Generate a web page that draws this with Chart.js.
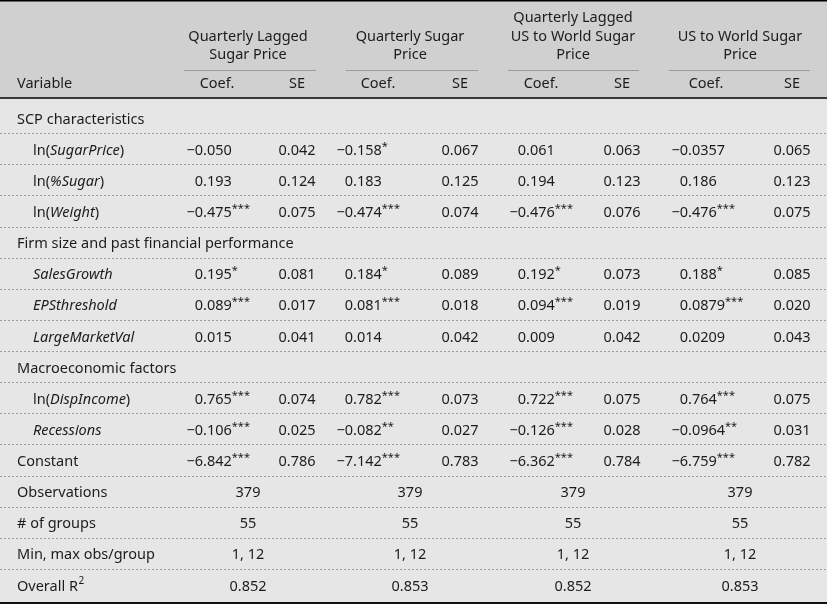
<!DOCTYPE html>
<html>
<head>
<meta charset="utf-8">
<script src="https://cdn.jsdelivr.net/npm/chart.js@4"></script>
<style>
  html, body { margin: 0; padding: 0; background: #e6e6e6; }
  canvas { display: block; }
</style>
</head>
<body>
<canvas id="regressionTable" width="827" height="604"></canvas>
<script>
// Regression table: four sugar price models, coefficients and standard errors

const modelTitles = [
    ['Quarterly Lagged', 'Sugar Price'],
    ['Quarterly Sugar', 'Price'],
    ['Quarterly Lagged', 'US to World Sugar', 'Price'],
    ['US to World Sugar', 'Price']
];
const subHeaders = ['Coef.', 'SE'];

// _text_ = italic
const variables = [
    'SCP characteristics', 'ln(_SugarPrice_)', 'ln(_%Sugar_)', 'ln(_Weight_)',
    'Firm size and past financial performance', '_SalesGrowth_', '_EPSthreshold_', '_LargeMarketVal_',
    'Macroeconomic factors', 'ln(_DispIncome_)', '_Recessions_', 'Constant'
];
const sectionRows = ['SCP characteristics', 'Firm size and past financial performance', 'Macroeconomic factors'];

const coefLaggedSugar = [null, '−0.050', '0.193', '−0.475***', null, '0.195*', '0.089***', '0.015', null, '0.765***', '−0.106***', '−6.842***'];
const seLaggedSugar   = [null, '0.042', '0.124', '0.075', null, '0.081', '0.017', '0.041', null, '0.074', '0.025', '0.786'];
const coefSugar       = [null, '−0.158*', '0.183', '−0.474***', null, '0.184*', '0.081***', '0.014', null, '0.782***', '−0.082**', '−7.142***'];
const seSugar         = [null, '0.067', '0.125', '0.074', null, '0.089', '0.018', '0.042', null, '0.073', '0.027', '0.783'];
const coefLaggedUsWorld = [null, '0.061', '0.194', '−0.476***', null, '0.192*', '0.094***', '0.009', null, '0.722***', '−0.126***', '−6.362***'];
const seLaggedUsWorld   = [null, '0.063', '0.123', '0.076', null, '0.073', '0.019', '0.042', null, '0.075', '0.028', '0.784'];
const coefUsWorld     = [null, '−0.0357', '0.186', '−0.476***', null, '0.188*', '0.0879***', '0.0209', null, '0.764***', '−0.0964**', '−6.759***'];
const seUsWorld       = [null, '0.065', '0.123', '0.075', null, '0.085', '0.020', '0.043', null, '0.075', '0.031', '0.782'];

const summaryLabels = ['Observations', '# of groups', 'Min, max obs/group', 'Overall R^2'];
const observations = ['379', '379', '379', '379'];
const groupCounts  = ['55', '55', '55', '55'];
const obsPerGroup  = ['1, 12', '1, 12', '1, 12', '1, 12'];
const overallR2    = ['0.852', '0.853', '0.852', '0.853'];

const coefSeries = [coefLaggedSugar, coefSugar, coefLaggedUsWorld, coefUsWorld];
const seSeries = [seLaggedSugar, seSugar, seLaggedUsWorld, seUsWorld];
const summarySeries = [observations, groupCounts, obsPerGroup, overallR2];

// layout (x in table units mapped through the x scale)
const FONT = '"Noto Sans", sans-serif';
const SIZE = '14.5px ';
const TEXT = '#1c1c1c';
const COL = {
    label: 17, indent: 33,
    coef: [203, 353, 526, 688],
    coefHead: [217, 378, 541, 706],
    se: [297, 460, 622, 792],
    group: [248, 410, 573, 740],
    rule: [[184, 316], [346, 478], [508, 639], [669, 810]]
};

const rowLabels = variables.concat(summaryLabels);
let inSection = false;
const indented = rowLabels.map(l => {
    if (sectionRows.includes(l)) { inSection = true; return false; }
    if (l === 'Constant' || summaryLabels.includes(l)) { inSection = false; return false; }
    return inSection;
});

function drawRich(ctx, text, x, y) {
    let italic = false, cx = x, i = 0;
    ctx.textAlign = 'left';
    while (i < text.length) {
        const ch = text[i];
        if (ch === '_') { italic = !italic; i++; continue; }
        if (ch === '^') {
            ctx.font = '10px ' + FONT;
            ctx.fillText(text[i + 1], cx + 0.5, y - 5);
            cx += ctx.measureText(text[i + 1]).width + 0.5;
            i += 2; continue;
        }
        let j = i;
        while (j < text.length && text[j] !== '_' && text[j] !== '^') j++;
        const seg = text.slice(i, j);
        ctx.font = (italic ? 'italic ' : '') + SIZE + FONT;
        ctx.fillText(seg, cx, y);
        cx += ctx.measureText(seg).width;
        i = j;
    }
}

function drawValue(ctx, text, x, y, align) {
    const m = text.match(/^([^*]*?)(\**)$/);
    const num = m[1], stars = m[2];
    ctx.font = SIZE + FONT;
    let end;
    if (align === 'decimal' && num.indexOf('.') >= 0) {
        const dot = num.indexOf('.');
        ctx.textAlign = 'right';
        ctx.fillText(num.slice(0, dot), x, y);
        ctx.textAlign = 'left';
        ctx.fillText(num.slice(dot), x, y);
        end = x + ctx.measureText(num.slice(dot)).width;
    } else {
        ctx.textAlign = 'center';
        ctx.fillText(num, x, y);
        end = x + ctx.measureText(num).width / 2;
    }
    if (stars) {
        ctx.font = '11px ' + FONT;
        ctx.textAlign = 'left';
        ctx.fillText(stars, end, y - 4);
    }
}

const datasets = [{
    label: 'rows',
    align: 'rich',
    data: rowLabels.map((t, i) => ({ x: indented[i] ? COL.indent : COL.label, y: i, text: t }))
}];
coefSeries.forEach((series, m) => {
    datasets.push({
        label: 'coef' + m, align: 'decimal',
        data: series.map((t, i) => t ? { x: COL.coef[m], y: i, text: t } : null).filter(Boolean)
    });
    datasets.push({
        label: 'se' + m, align: 'center',
        data: seSeries[m].map((t, i) => t ? { x: COL.se[m], y: i, text: t } : null).filter(Boolean)
    });
    datasets.push({
        label: 'summary' + m, align: 'center',
        data: summarySeries.map((s, k) => ({ x: COL.group[m], y: variables.length + k, text: s[m] }))
    });
});

const tablePlugin = {
    id: 'tablePlugin',
    beforeDraw(chart) {
        const ctx = chart.ctx, w = chart.width, h = chart.height;
        ctx.save();
        ctx.fillStyle = '#e6e6e6';
        ctx.fillRect(0, 0, w, h);
        ctx.fillStyle = '#d0d0d0';
        ctx.fillRect(0, 0, w, 97);
        ctx.restore();
    },
    beforeDatasetsDraw(chart) {
        const ctx = chart.ctx, xs = chart.scales.x, ys = chart.scales.y, w = chart.width;
        ctx.save();
        // dotted row separators
        ctx.strokeStyle = '#9c9c9c';
        ctx.lineWidth = 1;
        ctx.setLineDash([2, 2]);
        for (let k = 0; k < rowLabels.length - 1; k++) {
            const y = Math.round(ys.getPixelForValue(k + 0.5)) + 0.5;
            ctx.beginPath(); ctx.moveTo(0, y); ctx.lineTo(w, y); ctx.stroke();
        }
        ctx.setLineDash([]);
        // header
        ctx.fillStyle = TEXT;
        ctx.textBaseline = 'middle';
        ctx.font = SIZE + FONT;
        modelTitles.forEach((lines, m) => {
            const cx = xs.getPixelForValue(COL.group[m]);
            const y0 = 55 - (lines.length - 1) * 18.5;
            ctx.textAlign = 'center';
            lines.forEach((l, li) => ctx.fillText(l, cx, y0 + li * 18.5));
            ctx.strokeStyle = '#9a9a9a';
            ctx.beginPath();
            ctx.moveTo(xs.getPixelForValue(COL.rule[m][0]), 70.5);
            ctx.lineTo(xs.getPixelForValue(COL.rule[m][1]), 70.5);
            ctx.stroke();
            ctx.fillText(subHeaders[0], xs.getPixelForValue(COL.coefHead[m]), 84);
            ctx.fillText(subHeaders[1], xs.getPixelForValue(COL.se[m]), 84);
        });
        ctx.textAlign = 'left';
        ctx.fillText('Variable', xs.getPixelForValue(COL.label), 84);
        // rules
        ctx.fillStyle = '#000';
        ctx.fillRect(0, 0, w, 1.5);
        ctx.fillStyle = '#3a3a3a';
        ctx.fillRect(0, 97, w, 2);
        ctx.fillStyle = '#111';
        ctx.fillRect(0, chart.height - 2, w, 2);
        ctx.restore();
    },
    afterDatasetsDraw(chart) {
        const ctx = chart.ctx;
        ctx.save();
        ctx.fillStyle = TEXT;
        ctx.textBaseline = 'middle';
        chart.data.datasets.forEach((ds, di) => {
            chart.getDatasetMeta(di).data.forEach((el, j) => {
                const cell = ds.data[j];
                if (ds.align === 'rich') drawRich(ctx, cell.text, el.x, el.y + 2);
                else drawValue(ctx, cell.text, el.x, el.y + 2, ds.align);
            });
        });
        ctx.restore();
    }
};

new Chart(document.getElementById('regressionTable'), {
    type: 'scatter',
    data: { datasets: datasets },
    options: {
        responsive: false,
        animation: false,
        events: [],
        devicePixelRatio: 1,
        layout: { padding: { top: 102, bottom: 4, left: 0, right: 0 } },
        elements: { point: { radius: 0, hoverRadius: 0 } },
        plugins: { legend: { display: false }, tooltip: { enabled: false } },
        scales: {
            x: { type: 'linear', min: 0, max: 827, display: false },
            y: { type: 'linear', min: -0.5, max: rowLabels.length - 0.5, reverse: true, display: false }
        }
    },
    plugins: [tablePlugin]
});
</script>
</body>
</html>
